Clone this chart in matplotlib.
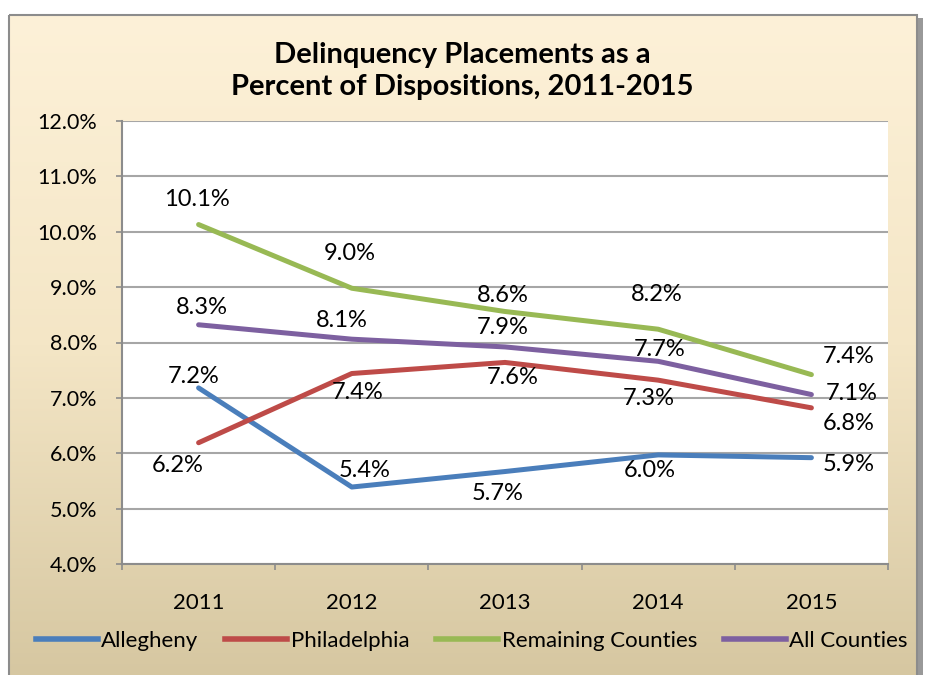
import matplotlib
matplotlib.use("Agg")
import matplotlib.pyplot as plt
import numpy as np
from matplotlib.colors import LinearSegmentedColormap
from matplotlib.patches import Rectangle

years = ["2011", "2012", "2013", "2014", "2015"]
allegheny = [7.18, 5.39, 5.67, 5.97, 5.92]
philadelphia = [6.19, 7.44, 7.64, 7.32, 6.82]
remaining = [10.13, 8.98, 8.56, 8.24, 7.42]
all_counties = [8.32, 8.06, 7.92, 7.66, 7.06]

series_names = ["Allegheny", "Philadelphia", "Remaining Counties", "All Counties"]
series_values = [allegheny, philadelphia, remaining, all_counties]
colors = ["#4A7EBB", "#BE4B48", "#98B954", "#7D60A0"]

# label offsets in pixels (dx, dy), picked by eye from the reference
label_offsets = [
    [(-5, 11), (13, 17), (-7, -22), (-8, -16), (37, -7)],
    [(-21, -23), (6, -19), (8, -15), (-9, -18), (37, -16)],
    [(-2, 25), (-2, 35), (-2, 16), (-1, 35), (37, 18)],
    [(3, 17), (-10, 19), (-2, 19), (1, 12), (40, 1)],
]

plt.rcParams["font.family"] = ["Lato", "DejaVu Sans"]

fig = plt.figure(figsize=(9.25, 6.75), dpi=100)

# background panel with beige gradient
bg = fig.add_axes([0, 0, 1, 1], zorder=-10)
bg.set_xlim(0, 925)
bg.set_ylim(675, 0)
bg.axis("off")
cmap = LinearSegmentedColormap.from_list("beige", ["#FDF1D8", "#F4E6C6", "#D6C7A1"])
grad = np.linspace(0, 1, 256).reshape(-1, 1)
bg.imshow(grad, cmap=cmap, extent=(9, 917, 676, 15), aspect="auto", zorder=0)
bg.add_patch(Rectangle((9, 15), 908, 670, fill=False, edgecolor="#8C8C8C", lw=1.5, zorder=2))
bg.add_patch(Rectangle((918, 18), 5, 660, facecolor="#555555", edgecolor="none", alpha=0.6, zorder=1))

ax = fig.add_axes([122 / 925, 1 - 564 / 675, 766 / 925, 443 / 675])
ax.set_facecolor("white")
x = np.arange(len(years))

for name, vals, col, offs in zip(series_names, series_values, colors, label_offsets):
    ax.plot(x, vals, color=col, lw=3.6, solid_capstyle="round", label=name, zorder=3)
    for xi, v, (dx, dy) in zip(x, vals, offs):
        ax.annotate(f"{v:.1f}%", xy=(xi, v), xytext=(dx, dy), textcoords="offset pixels",
                    ha="center", va="center", fontsize=17, color="black", zorder=4)

ax.set_xlim(-0.5, 4.5)
ax.set_ylim(4, 12)
ax.set_yticks(np.arange(4, 12.01, 1))
ax.set_yticklabels([f"{t:.1f}%" for t in np.arange(4, 12.01, 1)], fontsize=15.5)
ax.set_xticks(x)
ax.set_xticklabels(years, fontsize=16)
ax.set_xticks(np.arange(-0.5, 4.6, 1), minor=True)
ax.tick_params(axis="x", which="major", length=0, pad=21)
ax.tick_params(axis="x", which="minor", length=4, color="#8C8C8C", width=1.2)
ax.tick_params(axis="y", length=4, color="#8C8C8C", width=1.2, pad=14)
ax.grid(axis="y", color="#A6A6A6", lw=1.5, zorder=1)
ax.set_axisbelow(True)
for side in ["top", "right"]:
    ax.spines[side].set_visible(False)
for side in ["left", "bottom"]:
    ax.spines[side].set_color("#8C8C8C")
    ax.spines[side].set_linewidth(1.5)

fig.text(0.5, 1 - 71 / 675, "Delinquency Placements as a\nPercent of Dispositions, 2011-2015",
         ha="center", va="center", fontsize=21, fontweight="bold", linespacing=1.25)

handles = [plt.Line2D([0], [0], color=c, lw=4) for c in colors]
fig.legend(handles, series_names, loc="center", bbox_to_anchor=(0.51, 1 - 641 / 675), ncol=4,
           frameon=False, fontsize=16, handlelength=2.8, handletextpad=0.15, columnspacing=1.2)

fig.savefig("out.png", dpi=100)
